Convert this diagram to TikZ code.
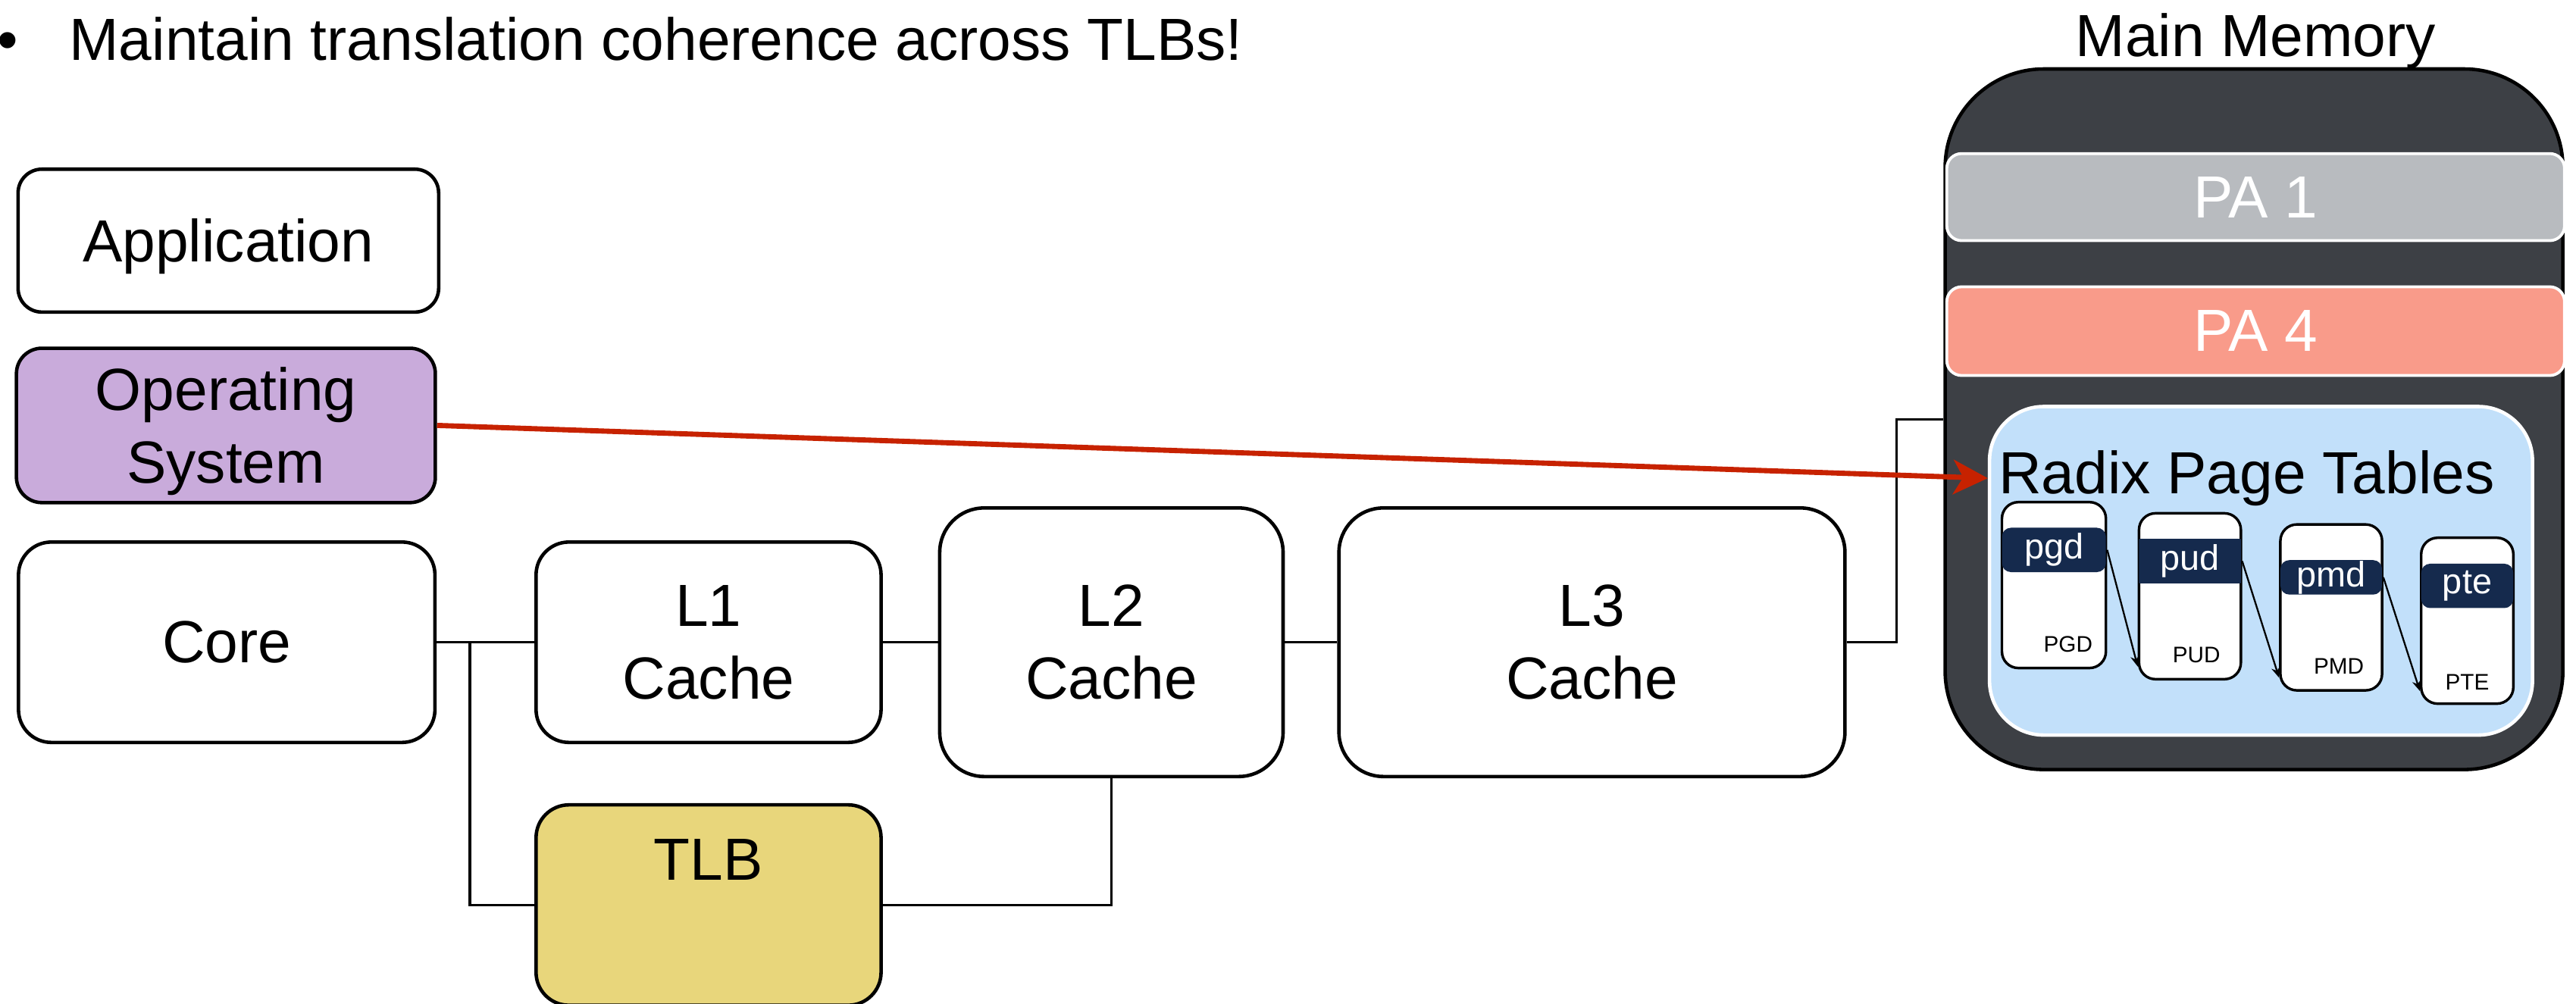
\documentclass[tikz,border=0pt]{standalone}
\usepackage{fontspec}
\setmainfont{Liberation Sans}
\usepackage{xcolor}
\usepackage{tikz}
\usetikzlibrary{positioning,arrows.meta}

\definecolor{osviolet}{HTML}{C9ABDB}
\definecolor{tlbyellow}{HTML}{E8D67B}
\definecolor{memgray}{HTML}{3D4045}
\definecolor{pagray}{HTML}{B8BBBF}
\definecolor{pasalmon}{HTML}{F99B8A}
\definecolor{radixblue}{HTML}{C2E0FA}
\definecolor{barnavy}{HTML}{152A4D}
\definecolor{ptrred}{HTML}{C72200}

\tikzset{
  % --- text ------------------------------------------------------------------
  txt/.style={font=\fontsize{20.6}{25.2}\selectfont},
  % --- software stack and cache hierarchy ------------------------------------
  blk/.style={rectangle,draw=black,line width=1.2pt,fill=white,txt,
              rounded corners=#1,inner sep=0pt,align=center,text depth=0pt},
  blk/.default=4mm,
  wire/.style={black,line width=0.8pt},
  % --- main memory -----------------------------------------------------------
  memblk/.style={rectangle,draw=black,line width=1.2pt,fill=memgray,
                 rounded corners=12mm,minimum width=75.2mm,minimum height=85.3mm},
  pablk/.style={rectangle,draw=white,line width=1pt,rounded corners=1.8mm,
                minimum width=75.2mm,text=white,txt},
  radixblk/.style={rectangle,draw=white,line width=1.2pt,fill=radixblue,
                   rounded corners=6.6mm,minimum width=66.1mm,minimum height=40mm},
  % --- page-table levels -----------------------------------------------------
  tbl/.style={rectangle,draw=black,line width=0.9pt,fill=white,
              rounded corners=2mm,minimum height=20.2mm,inner sep=0pt},
  bar/.style={rectangle,fill=barnavy,text=white,inner sep=0pt,
              font=\fontsize{12.3}{14}\selectfont},
  tlab/.style={anchor=base,inner sep=0pt,font=\fontsize{7.8}{9}\selectfont},
  walk/.style={-{Stealth[length=1.3mm,width=1.1mm]},black,line width=0.6pt},
  ptr/.style={-{Stealth[length=4.2mm,width=4.2mm,inset=1.2mm]},ptrred,
              line width=1.8pt},
}

\begin{document}
\begin{tikzpicture}[x=0.2mm, y=-0.2mm]
  \useasboundingbox (0,0) rectangle (1568,611.24);

  % the bullet line
  \node[anchor=base west,inner sep=0pt,txt] (bul) at (-2,36.9) {\textbullet};
  \node[anchor=base west,inner sep=0pt,txt] (aim) at (41.9,36.9)
       {Maintain translation coherence across TLBs!};

  % software stack
  \node[blk=2.9mm,minimum width=51.2mm,minimum height=17.4mm] (app)
       at (139,146.5) {Application};
  \node[blk=3.1mm,fill=osviolet,minimum width=51mm,minimum height=18.8mm] (os)
       at (137.5,259) {Operating\\System};

  % core, caches and TLB
  \node[blk,minimum width=50.7mm,minimum height=24.4mm] (core) at (138,391) {Core};
  \node[blk,minimum width=42mm,minimum height=24.4mm] (l1) at (431.3,391) {L1\\Cache};
  \node[blk=5.4mm,minimum width=41.8mm,minimum height=32.7mm] (l2)
       at (676.5,391) {L2\\Cache};
  \node[blk=5.4mm,minimum width=61.6mm,minimum height=32.7mm] (l3)
       at (969,391) {L3\\Cache};
  \node[blk,fill=tlbyellow,minimum width=42mm,minimum height=24.4mm] (tlb)
       at (431.3,551) {};
  \node[anchor=base,inner sep=0pt,txt] (tlbname) at (431.3,536) {TLB};

  % main memory
  \node[memblk] (mem) at (1372,255.25) {};
  \node[anchor=base,inner sep=0pt,txt] (memname) at (1373,34.4) {Main Memory};
  \node[pablk,fill=pagray,minimum height=10.6mm] (pa1) at (1373,120) {PA 1};
  \node[pablk,fill=pasalmon,minimum height=10.8mm] (pa4) at (1373,201.6) {PA 4};
  \node[radixblk] (radix) at (1376.25,347.5) {};
  \node[anchor=base,inner sep=0pt,txt] (rtitle) at (1367.5,300.5) {Radix Page Tables};

  % {name}{label}{x}{y}{width}{bar y}{bar height}{bar corner}{label x}{label y}
  \foreach \t/\T/\x/\y/\w/\by/\bh/\br/\lx/\ly in {%
      pgd/PGD/1250.2/356.2/12.66mm/334.8/5.4mm/1.1mm/1258.8/397,
      pud/PUD/1333/363/12.4mm/341.6/5.4mm/0.1pt/1337/403.3,
      pmd/PMD/1419/369.8/12.38mm/351.5/4.2mm/1.1mm/1423.6/410.5,
      pte/PTE/1501.8/377.9/11.22mm/356.7/5.4mm/1.1mm/1501.8/420}
  {
    \node[tbl,minimum width=\w] (tab\t) at (\x,\y) {};
    \node[bar,minimum width=\w,minimum height=\bh,rounded corners=\br] (bar\t)
         at (\x,\by) {\t};
    \node[tlab] (lab\t) at (\lx,\ly) {\T};
  }
  \foreach \a/\b in {pgd/pud,pud/pmd,pmd/pte}
    \draw[walk] (tab\a.east |- bar\a.center) -- ([yshift=1.7mm]tab\b.south west);

  % connectors
  \coordinate (tap) at (286,391);
  \draw[wire] (core) -- (l1);
  \draw[wire] (tap) |- (tlb.west);
  \draw[wire] (l1) -- (l2);
  \draw[wire] (l2.south) |- (tlb.east);
  \draw[wire] (l2) -- (l3);
  \draw[wire] (l3.east) -- ++(30.5,0) |- (mem.west);

  % the OS walks the radix tables
  \draw[ptr] (os.east) -- (rtitle.west -| radix.west);
\end{tikzpicture}
\end{document}
